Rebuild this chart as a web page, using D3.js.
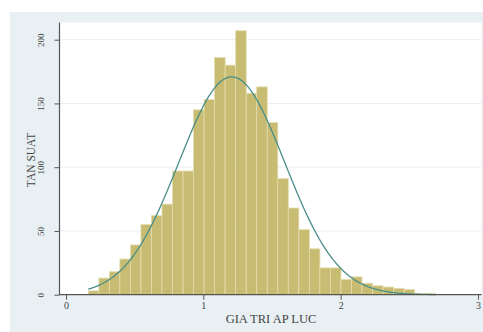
<!DOCTYPE html>
<html>
<head>
<meta charset="utf-8">
<script src="https://cdn.jsdelivr.net/npm/d3@7"></script>
<style>
  html, body { margin: 0; padding: 0; background: #ffffff; }
  svg { display: block; }
  text { font-family: "Liberation Serif", "Times New Roman", serif; }
</style>
</head>
<body>
<svg id="chart" width="483" height="332"></svg>
<script>
// ---- data ----
const binStart = 0.1624;      // left edge of the first bin (GIA TRI AP LUC)
const binWidth = 0.07665;     // bin width
const freq = [3, 13, 18, 28, 39, 55, 62, 71, 97, 97,
              145, 153, 186, 180, 207, 158, 163, 135, 91, 68,
              51, 36, 21, 21, 12, 14, 9, 7, 6, 5,
              4, 1, 1];
const normMean = 1.207;
const normSd = 0.386;
const xTicks = [0, 1, 2, 3];
const yTicks = [0, 50, 100, 150, 200];
const xTitle = "GIA TRI AP LUC";
const yTitle = "TAN SUAT";

// ---- layout ----
const svg = d3.select("#chart");
const W = 483, H = 332;

svg.append("rect").attr("x", 10).attr("y", 12).attr("width", W - 10).attr("height", H - 12)
   .attr("fill", "#e9f0f3");

const x = d3.scaleLinear().domain([0, 3]).range([66, 478]);
const y = d3.scaleLinear().domain([0, 200]).range([294.7, 39.7]);

const plotLeft = 59.5, plotRight = 481.5, plotTop = 22.5, plotBottom = y(0);
svg.append("rect").attr("x", plotLeft).attr("y", plotTop)
   .attr("width", plotRight - plotLeft).attr("height", plotBottom - plotTop)
   .attr("fill", "#ffffff");

// gridlines
svg.append("g").selectAll("line").data(yTicks.filter(d => d > 0)).join("line")
   .attr("x1", plotLeft).attr("x2", plotRight)
   .attr("y1", d => y(d)).attr("y2", d => y(d))
   .attr("stroke", "#e8eff2").attr("stroke-width", 1);

// bars
const bins = freq.map((f, i) => ({ x0: binStart + i * binWidth, x1: binStart + (i + 1) * binWidth, f }));
svg.append("g").selectAll("rect").data(bins).join("rect")
   .attr("x", d => x(d.x0))
   .attr("width", d => x(d.x1) - x(d.x0))
   .attr("y", d => y(d.f))
   .attr("height", d => y(0) - y(d.f))
   .attr("fill", "#c8bc72")
   .attr("stroke", "#e3dcae")
   .attr("stroke-width", 0.8);

// normal density overlay scaled to frequency
const N = d3.sum(freq);
const scale = N * binWidth / (normSd * Math.sqrt(2 * Math.PI));
const xMin = binStart, xMax = binStart + freq.length * binWidth;
const pts = d3.range(0, 201).map(i => {
  const v = xMin + (xMax - xMin) * i / 200;
  const z = (v - normMean) / normSd;
  return [v, scale * Math.exp(-0.5 * z * z)];
});
svg.append("path").datum(pts)
   .attr("d", d3.line().x(d => x(d[0])).y(d => y(d[1])))
   .attr("fill", "none").attr("stroke", "#4a8e8a").attr("stroke-width", 1.3);

// axes
const xAxis = svg.append("g").attr("transform", `translate(0,${plotBottom})`)
  .call(d3.axisBottom(x).tickValues(xTicks).tickFormat(d3.format("d")).tickSize(5).tickPadding(2));
xAxis.select(".domain").attr("d", `M${plotLeft},0H${plotRight}`).attr("stroke", "#555").attr("stroke-width", 1.2);
xAxis.selectAll(".tick line").attr("stroke", "#555");
xAxis.selectAll(".tick text").attr("font-size", 10).attr("fill", "#444");

const yAxis = svg.append("g").attr("transform", `translate(${plotLeft},0)`)
  .call(d3.axisLeft(y).tickValues(yTicks).tickFormat(d3.format("d")).tickSize(5).tickPadding(0));
yAxis.select(".domain").attr("d", `M0,${plotTop}V${plotBottom}`).attr("stroke", "#555").attr("stroke-width", 1.2);
yAxis.selectAll(".tick line").attr("stroke", "#555");
yAxis.selectAll(".tick text")
  .attr("font-size", 9).attr("fill", "#444")
  .attr("x", null).attr("dy", null)
  .attr("text-anchor", "middle")
  .attr("transform", "translate(-19,0) rotate(-90)")
  .attr("y", 3);

// titles
svg.append("text").attr("x", 271).attr("y", 323)
   .attr("text-anchor", "middle").attr("font-size", 12.5).attr("fill", "#444")
   .text(xTitle);
svg.append("text").attr("transform", "translate(34.5,160) rotate(-90)")
   .attr("text-anchor", "middle").attr("font-size", 11.5).attr("fill", "#444")
   .text(yTitle);
</script>
</body>
</html>
